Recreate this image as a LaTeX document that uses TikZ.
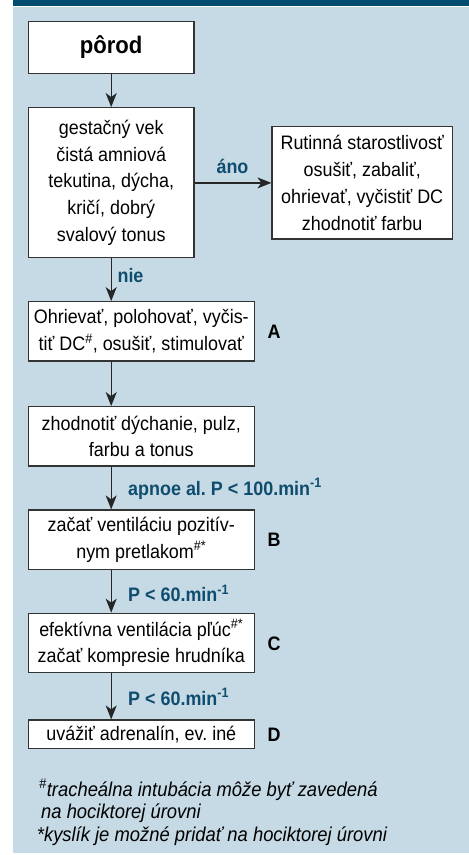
\documentclass[tikz,border=0pt]{standalone}
\usepackage{fontspec}
\setmainfont{Liberation Sans}[FakeStretch=0.92]
\usetikzlibrary{arrows.meta}
\definecolor{bgblue}{HTML}{C6DAE5}
\definecolor{barblue}{HTML}{004B6E}
\definecolor{lblblue}{HTML}{0F4D6E}
\definecolor{boxline}{HTML}{333333}
\frenchspacing
\tikzset{
  box/.style={draw=boxline, line width=1.3pt, fill=white, inner sep=0pt, align=center,
    font=\fontsize{19.5}{26.7}\selectfont},
  arr/.style={draw=black!85, line width=1.2pt, -{Stealth[length=14pt,width=11pt,inset=4pt]}},
  lbl/.style={text=lblblue, inner sep=0pt, font=\fontsize{19.5}{24}\selectfont\bfseries},
  lvl/.style={inner sep=0pt, font=\fontsize{19.5}{24}\selectfont\bfseries},
  foot/.style={inner sep=0pt, anchor=west, font=\fontsize{20}{23}\selectfont\itshape}
}
\begin{document}
\begin{tikzpicture}[x=1pt,y=-1pt]
\useasboundingbox (0,0) rectangle (469,855);
\fill[white] (0,0) rectangle (469,855);
\fill[bgblue] (13.3,6.5) rectangle (469,853);
\fill[barblue] (13.3,0) rectangle (469,5.8);

\node[box, minimum width=165.7pt, minimum height=51.6pt, font=\fontsize{24}{28}\selectfont\bfseries] (porod) at (111.2,47.5) {pôrod};
\node[box, minimum width=165.7pt, minimum height=150pt] (gest) at (111.2,182.7)
  {gestačný vek\\čistá amniová\\tekutina, dýcha,\\kričí, dobrý\\svalový tonus};
\node[box, minimum width=180.3pt, minimum height=112.3pt] (rut) at (362.2,182.9)
  {Rutinná starostlivosť\\osušiť, zabaliť,\\ohrievať, vyčistiť DC\\zhodnotiť farbu};
\node[box, minimum width=226pt, minimum height=59.3pt] (ohr) at (141.3,331.4)
  {Ohrievať, polohovať, vyčis-\\tiť DC\textsuperscript{\#}, osušiť, stimulovať};
\node[box, minimum width=226pt, minimum height=59.3pt] (zhod) at (141.3,436.4)
  {zhodnotiť dýchanie, pulz,\\farbu a tonus};
\node[box, minimum width=226pt, minimum height=59.3pt] (zac) at (141.3,539.7)
  {začať ventiláciu pozitív-\\nym pretlakom\textsuperscript{\#*}};
\node[box, minimum width=226pt, minimum height=59.4pt] (efe) at (141.3,643)
  {efektívna ventilácia pľúc\textsuperscript{\#*}\\začať kompresie hrudníka};
\node[box, minimum width=226pt, minimum height=28.3pt] (uva) at (141.3,734.2)
  {uvážiť adrenalín, ev. iné};

\node[lvl] (la) at (274,331.7) {A};
\node[lvl] (lb) at (274,540) {B};
\node[lvl] (lc) at (274,643.3) {C};
\node[lvl] (ld) at (274,735) {D};

\draw[arr] (porod) -- (gest);
\draw[arr] (gest.east |- rut.west) -- (rut.west);
\draw[arr] (gest.south) -- (ohr.north -| gest.south);
\draw[arr] (ohr.south -| gest.south) -- (zhod.north -| gest.south);
\draw[arr] (zhod.south -| gest.south) -- (zac.north -| gest.south);
\draw[arr] (zac.south -| gest.south) -- (efe.north -| gest.south);
\draw[arr] (efe.south -| gest.south) -- (uva.north -| gest.south);

\node[lbl] (ano) at (232.5,166) {áno};
\node[lbl] (nie) at (130.5,276) {nie};
\node[lbl, anchor=west] (apn) at (128,489) {apnoe al. P < 100.min\textsuperscript{-1}};
\node[lbl, anchor=west] (p1) at (128,593.3) {P < 60.min\textsuperscript{-1}};
\node[lbl, anchor=west] (p2) at (128,696.7) {P < 60.min\textsuperscript{-1}};

\node[foot] (f1) at (39,790) {\textsuperscript{\#}tracheálna intubácia môže byť zavedená};
\node[foot] (f2) at (41,813.3) {na hociktorej úrovni};
\node[foot] (f3) at (36.7,836.7) {*kyslík je možné pridať na hociktorej úrovni};
\end{tikzpicture}
\end{document}
